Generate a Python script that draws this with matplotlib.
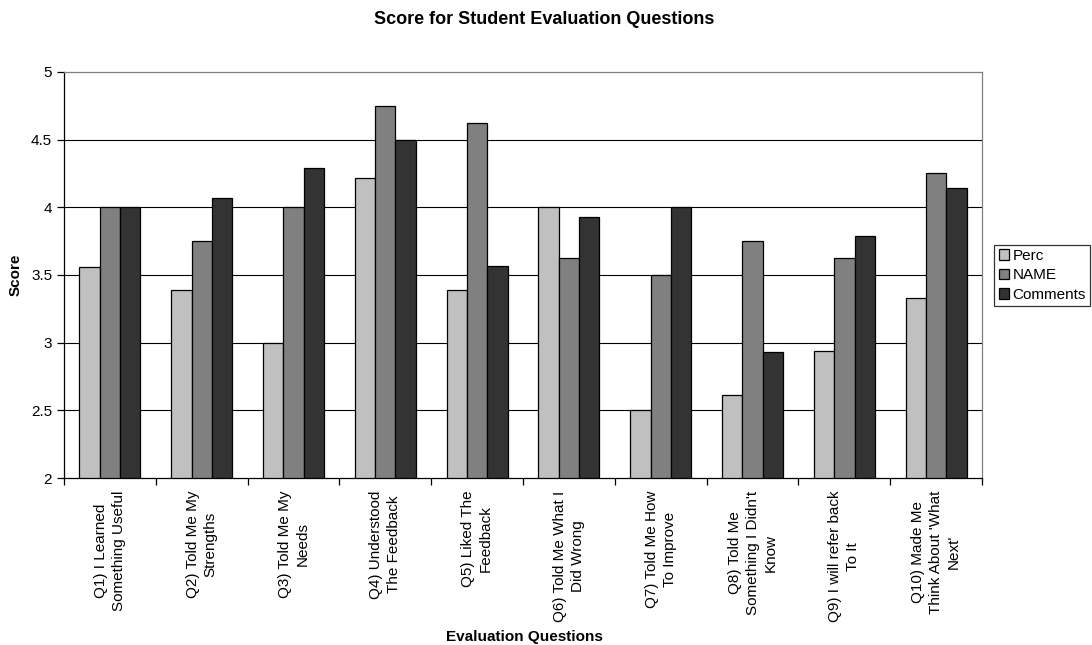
import numpy as np
import matplotlib.pyplot as plt

plt.rcParams['font.family'] = ['Liberation Sans', 'DejaVu Sans']

questions = ["Q1) I Learned\nSomething Useful", "Q2) Told Me My\nStrengths",
             "Q3) Told Me My\nNeeds", "Q4) Understood\nThe Feedback",
             "Q5) Liked The\nFeedback", "Q6) Told Me What I\nDid Wrong",
             "Q7) Told Me How\nTo Improve", "Q8) Told Me\nSomething I Didn't\nKnow",
             "Q9) I will refer back\nTo It", "Q10) Made Me\nThink About 'What\nNext'"]
perc = [3.56, 3.39, 3.0, 4.22, 3.39, 4.0, 2.5, 2.61, 2.94, 3.33]
name = [4.0, 3.75, 4.0, 4.75, 4.625, 3.625, 3.5, 3.75, 3.625, 4.25]
comments = [4.0, 4.07, 4.29, 4.5, 3.57, 3.93, 4.0, 2.93, 3.79, 4.14]

series = [("Perc", perc, "#C0C0C0"), ("NAME", name, "#808080"), ("Comments", comments, "#333333")]

fig = plt.figure(figsize=(10.92, 6.45), dpi=100)
ax = fig.add_axes([0.0586, 0.2589, 0.8407, 0.6295])

x = np.arange(len(questions))
w = 0.222
for k, (lab, vals, col) in enumerate(series):
    ax.bar(x + (k - 1) * w, np.array(vals) - 2, width=w, bottom=2, color=col,
           edgecolor='black', linewidth=0.9, label=lab, zorder=3)

ax.set_ylim(2, 5)
ax.set_xlim(-0.5, len(questions) - 0.5)
ax.set_yticks([2, 2.5, 3, 3.5, 4, 4.5, 5])
ax.set_yticklabels(['2', '2.5', '3', '3.5', '4', '4.5', '5'], fontsize=11)
for yv in [2.5, 3, 3.5, 4, 4.5]:
    ax.axhline(yv, color='black', linewidth=0.8, zorder=1)

ax.set_xticks(np.arange(len(questions) + 1) - 0.5)
ax.set_xticklabels([])
ax.set_xticks(x, minor=True)
ax.set_xticklabels(questions, minor=True, rotation=90, fontsize=11,
                   ha='center', va='top', multialignment='center', linespacing=1.35)
ax.tick_params(axis='x', which='minor', length=0, pad=9)
ax.tick_params(axis='both', which='major', direction='out', length=5, width=0.9, color='black')

ax.spines['left'].set_color('black')
ax.spines['bottom'].set_color('black')
ax.spines['top'].set_color('#808080')
ax.spines['right'].set_color('#808080')
for s in ax.spines.values():
    s.set_linewidth(0.9)

ax.set_ylabel('Score', fontsize=11, fontweight='bold', labelpad=6)
fig.text(524 / 1092, 1 - 637 / 645, 'Evaluation Questions', ha='center', va='center',
         fontsize=11, fontweight='bold')
fig.text(544 / 1092, 1 - 19 / 645, 'Score for Student Evaluation Questions', ha='center',
         va='center', fontsize=13, fontweight='bold')

leg = fig.legend(loc='center left', bbox_to_anchor=(994 / 1092, 0.5729), fontsize=11,
                 frameon=True, fancybox=False, edgecolor='black', handlelength=0.7,
                 handleheight=0.7, handletextpad=0.2, borderpad=0.3, labelspacing=0.35,
                 borderaxespad=0)
leg.get_frame().set_linewidth(0.9)

fig.savefig('out.png', dpi=100)
